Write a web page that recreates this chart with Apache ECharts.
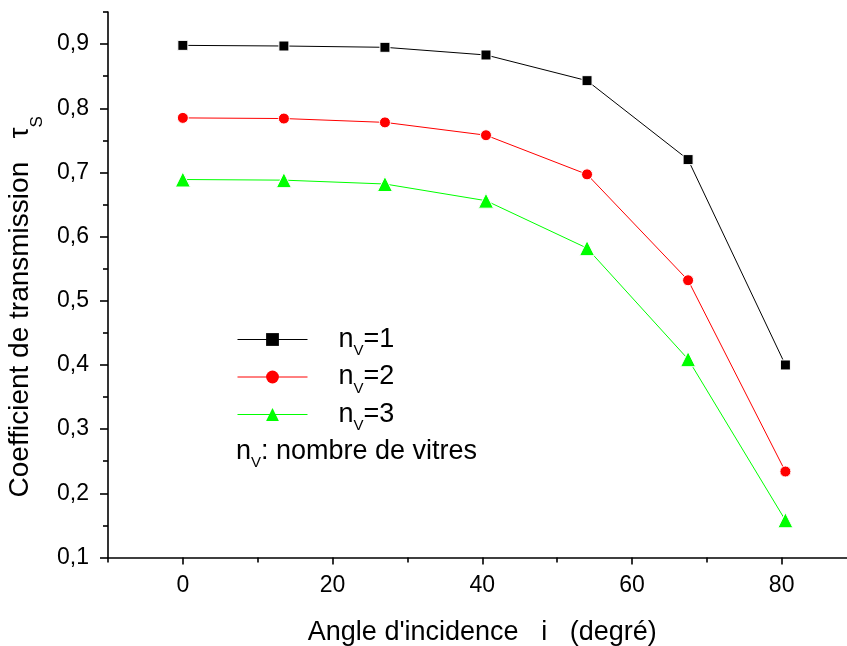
<!DOCTYPE html>
<html>
<head>
<meta charset="utf-8">
<script src="https://cdn.jsdelivr.net/npm/echarts@6/dist/echarts.min.js"></script>
<style>
  html, body { margin: 0; padding: 0; background: #fff; }
  #chart { width: 847px; height: 646px; }
</style>
</head>
<body>
<div id="chart"></div>
<script>
// angles (degrees)
const angles = [0, 13.5, 27, 40.5, 54, 67.5, 80.5];
// transmission coefficient for 1, 2, 3 panes
const nv1 = [0.898, 0.897, 0.895, 0.883, 0.843, 0.720, 0.400];
const nv2 = [0.785, 0.784, 0.778, 0.758, 0.697, 0.532, 0.234];
const nv3 = [0.689, 0.688, 0.682, 0.656, 0.582, 0.409, 0.158];
const xMajor = [0, 20, 40, 60, 80];
const xMinor = [-10, 10, 30, 50, 70];
const yMajor = [0.1, 0.2, 0.3, 0.4, 0.5, 0.6, 0.7, 0.8, 0.9];
const yMinor = [0.15, 0.25, 0.35, 0.45, 0.55, 0.65, 0.75, 0.85, 0.95];

const font = "Liberation Sans, Arial, sans-serif";
const pair = (ys) => angles.map((x, i) => [x, ys[i]]);

// a: normal text in a tall line, b: subscript sitting at the bottom of that line
function subRich(size, subSize, lineH) {
  return {
    a: { fontSize: size, fontFamily: font, color: "#000", lineHeight: lineH },
    b: { fontSize: subSize, fontFamily: font, color: "#000", verticalAlign: "bottom" }
  };
}

const chart = echarts.init(document.getElementById("chart"));

function xAxisBase(extra) {
  return Object.assign({
    type: "value",
    min: -10,
    max: 90,
    interval: 10,
    position: "bottom",
    splitLine: { show: false }
  }, extra);
}
function yAxisBase(extra) {
  return Object.assign({
    type: "value",
    min: 0.1,
    max: 0.95,
    interval: 0.05,
    position: "left",
    splitLine: { show: false }
  }, extra);
}

const option = {
  animation: false,
  backgroundColor: "#fff",
  grid: { left: 108, top: 12, right: -9.5, bottom: 88.5, outerBoundsMode: "none" },
  xAxis: [
    xAxisBase({
      axisLine: { onZero: false, lineStyle: { color: "#000", width: 1.6 } },
      axisTick: { customValues: xMajor, length: 7, lineStyle: { color: "#000", width: 1.6 } },
      axisLabel: { customValues: xMajor, color: "#000", fontSize: 23, fontFamily: font, margin: 17 },
      name: "Angle d'incidence   i   (degré)",
      nameLocation: "middle",
      nameGap: 62,
      nameTextStyle: { color: "#000", fontSize: 27, fontFamily: font }
    }),
    xAxisBase({
      axisLine: { show: false, onZero: false },
      axisTick: { customValues: xMinor, length: 5, lineStyle: { color: "#000", width: 1.6 } },
      axisLabel: { show: false }
    })
  ],
  yAxis: [
    yAxisBase({
      axisLine: { onZero: false, lineStyle: { color: "#000", width: 1.6 } },
      axisTick: { customValues: yMajor, length: 8, lineStyle: { color: "#000", width: 1.6 } },
      axisLabel: {
        customValues: yMajor,
        color: "#000", fontSize: 23, fontFamily: font, margin: 19,
        formatter: (v) => v.toFixed(1).replace(".", ",")
      },
      name: "{a|Coefficient de transmission   τ}{b|S}",
      nameLocation: "middle",
      nameRotate: 90,
      nameGap: 58,
      nameTextStyle: { rich: subRich(28, 17, 52), padding: [0, 44, 0, 0] }
    }),
    yAxisBase({
      axisLine: { show: false, onZero: false },
      axisTick: { customValues: yMinor, length: 5, lineStyle: { color: "#000", width: 1.6 } },
      axisLabel: { show: false }
    })
  ],
  legend: {
    orient: "vertical",
    left: 237,
    top: 326,
    padding: 0,
    itemWidth: 70,
    itemHeight: 16,
    itemGap: 5,
    data: ["nv1", "nv2", "nv3"],
    formatter: (name) => "{a|n}{b|V}{a|=" + name.slice(2) + "}",
    lineStyle: { width: 1 },
    itemStyle: { borderWidth: 0 },
    textStyle: { padding: [0, 0, 0, 26], rich: subRich(27, 15, 38) }
  },
  graphic: [{
    type: "text",
    left: 236,
    top: 438,
    style: {
      text: "{a|n}{b|V}{a|: nombre de vitres}",
      rich: subRich(27, 15, 38)
    }
  }],
  series: [
    {
      name: "nv1",
      type: "line",
      data: pair(nv1),
      symbol: "rect",
      symbolSize: 10,
      lineStyle: { color: "#000", width: 1 },
      itemStyle: { color: "#000", borderColor: "#fff", borderWidth: 1 }
    },
    {
      name: "nv2",
      type: "line",
      data: pair(nv2),
      symbol: "circle",
      symbolSize: 11,
      lineStyle: { color: "#ff0000", width: 1 },
      itemStyle: { color: "#ff0000", borderColor: "#fff", borderWidth: 1 }
    },
    {
      name: "nv3",
      type: "line",
      data: pair(nv3),
      symbol: "triangle",
      symbolSize: 15,
      lineStyle: { color: "#00ff00", width: 1 },
      itemStyle: { color: "#00ff00", borderColor: "#fff", borderWidth: 1 }
    }
  ]
};
chart.setOption(option);
</script>
</body>
</html>
